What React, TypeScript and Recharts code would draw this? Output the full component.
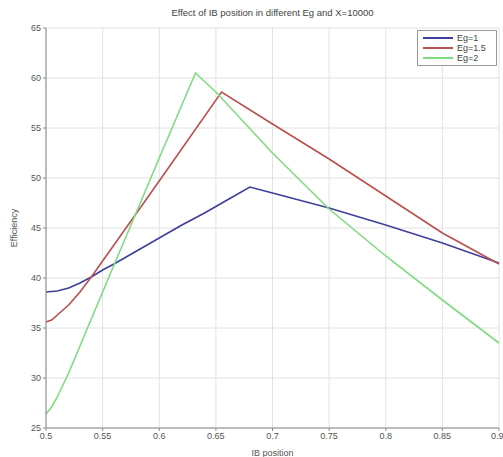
import {
  LineChart,
  Line,
  XAxis,
  YAxis,
  CartesianGrid,
} from 'recharts'

// IB position vs efficiency
const eg1X = [0.5, 0.51, 0.52, 0.53, 0.54, 0.55, 0.56, 0.58, 0.6, 0.62, 0.64, 0.66, 0.68, 0.7, 0.75, 0.8, 0.85, 0.9]
const eg1Y = [38.6, 38.7, 39.0, 39.5, 40.1, 40.8, 41.4, 42.7, 44.0, 45.3, 46.5, 47.8, 49.1, 48.5, 47.0, 45.3, 43.5, 41.5]

const eg15X = [0.5, 0.505, 0.51, 0.52, 0.53, 0.54, 0.55, 0.6, 0.655, 0.7, 0.75, 0.8, 0.85, 0.9]
const eg15Y = [35.6, 35.8, 36.3, 37.3, 38.6, 40.1, 41.7, 49.7, 58.6, 55.4, 51.9, 48.2, 44.5, 41.4]

const eg2X = [0.5, 0.505, 0.51, 0.52, 0.55, 0.6, 0.632, 0.65, 0.7, 0.75, 0.8, 0.85, 0.9]
const eg2Y = [26.4, 27.1, 28.1, 30.5, 38.6, 52.0, 60.5, 58.6, 52.5, 46.9, 42.2, 37.8, 33.5]

const xTicks = [0.5, 0.55, 0.6, 0.65, 0.7, 0.75, 0.8, 0.85, 0.9]
const yTicks = [25, 30, 35, 40, 45, 50, 55, 60, 65]

const SERIES = [
  { name: 'Eg=1', color: '#3d3f9c', xs: eg1X, ys: eg1Y },
  { name: 'Eg=1.5', color: '#b9504f', xs: eg15X, ys: eg15Y },
  { name: 'Eg=2', color: '#7fdc7f', xs: eg2X, ys: eg2Y },
]

const FONT = '"Liberation Sans", Arial, sans-serif'
const tickStyle = { fontSize: 9, fill: '#555', fontFamily: FONT }

function LegendBox() {
  return (
    <div
      style={{
        position: 'absolute',
        top: 30,
        left: 417,
        border: '1px solid #999',
        background: '#fff',
        width: 78,
        padding: '2px 0',
        fontFamily: FONT,
        fontSize: 9,
        color: '#444',
      }}
    >
      {SERIES.map((s) => (
        <div key={s.name} style={{ display: 'flex', alignItems: 'center', height: 10 }}>
          <div style={{ width: 30, height: 2, background: s.color, marginLeft: 5, marginRight: 4 }} />
          <span>{s.name}</span>
        </div>
      ))}
    </div>
  )
}

export default function App() {
  const seriesData = SERIES.map((s) => ({
    ...s,
    data: s.xs.map((x, i) => ({ x, y: s.ys[i] })),
  }))

  return (
    <div style={{ position: 'absolute', left: 0, top: 0, width: 503, height: 457, background: '#fff' }}>
      <div
        style={{
          position: 'absolute',
          top: 7,
          left: 46,
          width: 453,
          textAlign: 'center',
          fontFamily: FONT,
          fontSize: 9.5,
          color: '#444',
        }}
      >
        Effect of IB position in different Eg and X=10000
      </div>
      <LineChart
        width={503}
        height={457}
        margin={{ top: 28, right: 4, left: 0, bottom: 0 }}
      >
        <CartesianGrid stroke="#e2e2e2" vertical horizontal />
        <XAxis
          dataKey="x"
          type="number"
          domain={[0.5, 0.9]}
          ticks={xTicks}
          allowDuplicatedCategory={false}
          tick={tickStyle}
          tickLine={{ stroke: '#888' }}
          tickSize={3}
          axisLine={{ stroke: '#888' }}
          height={29}
          label={{ value: 'IB position', position: 'insideBottom', offset: 1, style: { ...tickStyle, fontSize: 9 } }}
        />
        <XAxis
          xAxisId="top"
          orientation="top"
          dataKey="x"
          type="number"
          domain={[0.5, 0.9]}
          ticks={xTicks}
          tick={false}
          tickLine={false}
          axisLine={{ stroke: '#888' }}
          height={0}
        />
        <YAxis
          type="number"
          domain={[25, 65]}
          ticks={yTicks}
          tick={tickStyle}
          tickLine={{ stroke: '#888' }}
          tickSize={3}
          axisLine={{ stroke: '#888' }}
          width={46}
          label={{ value: 'Efficiency', angle: -90, position: 'insideLeft', offset: 14, style: { ...tickStyle, textAnchor: 'middle' } }}
        />
        <YAxis
          yAxisId="right"
          orientation="right"
          type="number"
          domain={[25, 65]}
          ticks={yTicks}
          tick={false}
          tickLine={false}
          axisLine={{ stroke: '#888' }}
          width={0}
        />
        {seriesData.map((s) => (
          <Line
            key={s.name}
            data={s.data}
            dataKey="y"
            name={s.name}
            type="linear"
            stroke={s.color}
            strokeWidth={1.6}
            dot={false}
            isAnimationActive={false}
          />
        ))}
      </LineChart>
      <LegendBox />
    </div>
  )
}
